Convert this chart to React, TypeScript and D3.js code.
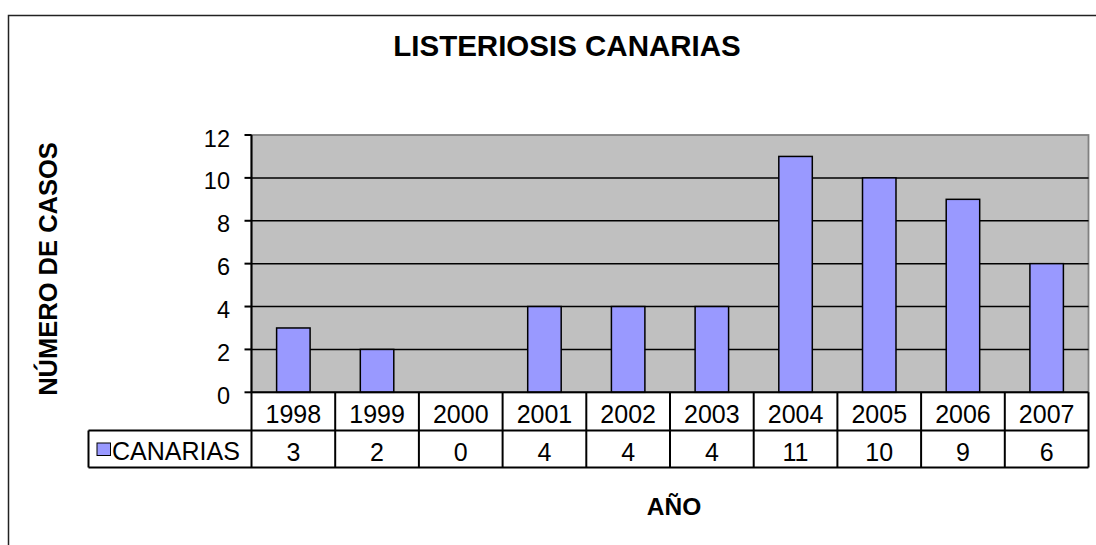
import React from "react";
import * as d3 from "d3";

const years = ["1998", "1999", "2000", "2001", "2002", "2003", "2004", "2005", "2006", "2007"];
const canarias = [3, 2, 0, 4, 4, 4, 11, 10, 9, 6];
const yTicks = [0, 2, 4, 6, 8, 10, 12];
const seriesName = "CANARIAS";
const title = "LISTERIOSIS CANARIAS";
const yTitle = "NÚMERO DE CASOS";
const xTitle = "AÑO";

const FONT = "'Liberation Sans', Arial, Helvetica, sans-serif";

export default function App() {
  const left = 251.5;
  const right = 1088.5;
  const top = 135;
  const zero = 392.3;
  const row1 = 430.5;
  const row2 = 467.5;
  const legendLeft = 88.5;

  const x = d3.scaleBand<string>().domain(years).range([left, right]).paddingInner(0.6).paddingOuter(0.3);
  const col = d3.scaleBand<string>().domain(years).range([left, right]).padding(0);
  const y = d3.scaleLinear().domain([0, 12]).range([zero, top]);

  return (
    <svg
      width={1096}
      height={545}
      style={{ position: "absolute", left: 0, top: 0, background: "#fff" }}
      fontFamily={FONT}
    >
      {/* outer chart border */}
      <rect x={8.5} y={15.5} width={1200} height={700} fill="#fff" stroke="#222" strokeWidth={1.5} />

      {/* title */}
      <text x={567} y={56} textAnchor="middle" fontSize={29.5} fontWeight="bold" fill="#000">
        {title}
      </text>

      {/* plot area */}
      <rect x={left} y={top} width={right - left} height={zero - top} fill="#C0C0C0" stroke="#808080" strokeWidth={1.8} />

      {/* gridlines */}
      {yTicks.filter((t) => t > 0 && t < 12).map((t) => (
        <line key={"g" + t} x1={left} x2={right} y1={y(t)} y2={y(t)} stroke="#000" strokeWidth={1.5} />
      ))}

      {/* bars */}
      {canarias.map((v, i) => (
        v > 0 ? (
          <rect
            key={"b" + i}
            x={x(years[i])!}
            y={y(v)}
            width={x.bandwidth()}
            height={zero - y(v)}
            fill="#9999FF"
            stroke="#000"
            strokeWidth={1.5}
          />
        ) : null
      ))}

      {/* y axis */}
      <line x1={left} x2={left} y1={top} y2={zero} stroke="#000" strokeWidth={2} />
      {yTicks.map((t) => (
        <g key={"t" + t}>
          <line x1={left - 7} x2={left} y1={y(t)} y2={y(t)} stroke="#000" strokeWidth={2} />
          <text x={230} y={y(t) + 11.5} textAnchor="end" fontSize={23.5} fill="#000">
            {t}
          </text>
        </g>
      ))}

      {/* zero line / x axis */}
      <line x1={left} x2={right} y1={zero} y2={zero} stroke="#000" strokeWidth={2} />

      {/* data table */}
      <line x1={left} x2={left} y1={zero} y2={row2} stroke="#000" strokeWidth={2} />
      <line x1={right} x2={right} y1={zero} y2={row2} stroke="#000" strokeWidth={2} />
      {years.slice(1).map((yr) => (
        <line key={"c" + yr} x1={col(yr)!} x2={col(yr)!} y1={zero} y2={row2} stroke="#000" strokeWidth={2} />
      ))}
      <line x1={legendLeft} x2={right} y1={row1} y2={row1} stroke="#000" strokeWidth={2} />
      <line x1={legendLeft} x2={right} y1={row2} y2={row2} stroke="#000" strokeWidth={2} />
      <line x1={legendLeft} x2={legendLeft} y1={row1} y2={row2} stroke="#000" strokeWidth={2} />

      {years.map((yr) => (
        <text key={"y" + yr} x={col(yr)! + col.bandwidth() / 2} y={423} textAnchor="middle" fontSize={25} fill="#000">
          {yr}
        </text>
      ))}
      {canarias.map((v, i) => (
        <text key={"v" + i} x={col(years[i])! + col.bandwidth() / 2} y={460.5} textAnchor="middle" fontSize={25} fill="#000">
          {v}
        </text>
      ))}

      {/* legend key */}
      <rect x={97} y={443} width={13.5} height={12.5} fill="#9999FF" stroke="#000" strokeWidth={1} />
      <text x={112} y={459.5} fontSize={25} fill="#000">
        {seriesName}
      </text>

      {/* axis titles */}
      <text
        transform={`translate(57, 269) rotate(-90)`}
        textAnchor="middle"
        fontSize={25.5}
        fontWeight="bold"
        fill="#000"
      >
        {yTitle}
      </text>
      <text x={674} y={515} textAnchor="middle" fontSize={24.5} fontWeight="bold" fill="#000">
        {xTitle}
      </text>
    </svg>
  );
}
